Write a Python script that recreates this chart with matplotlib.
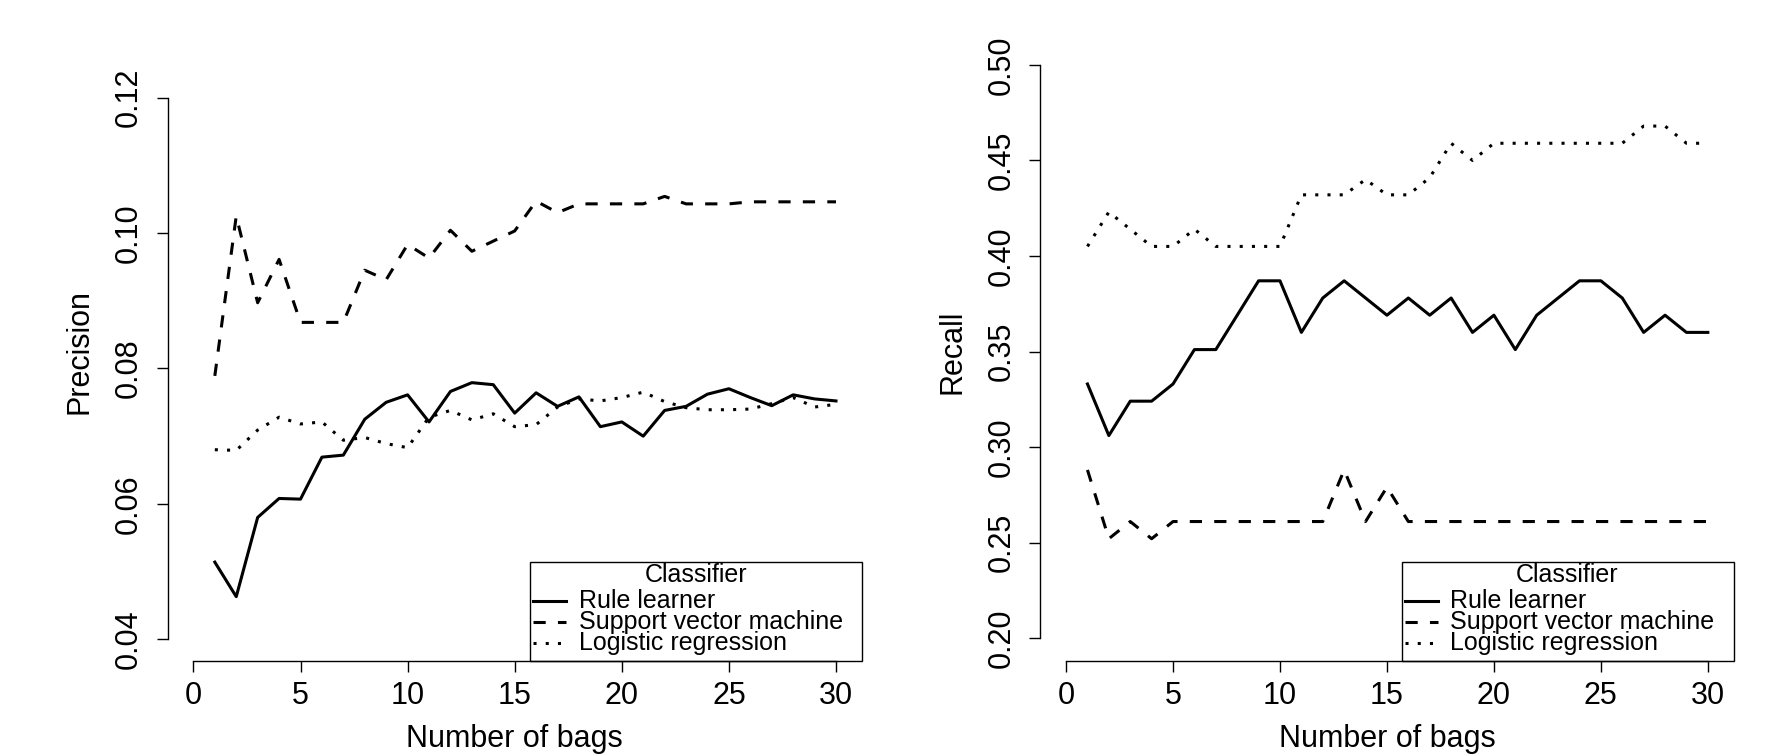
import matplotlib

matplotlib.use("Agg")
import matplotlib.pyplot as plt
from matplotlib.lines import Line2D
from matplotlib.patches import Rectangle

W, H = 1784, 754

# number of bags on the x axis
bags = list(range(1, 31))

# precision per classifier
prec_rule = [0.0514, 0.0463, 0.0580, 0.0608, 0.0607, 0.0669, 0.0672, 0.0725, 0.0750, 0.0761,
             0.0721, 0.0766, 0.0779, 0.0776, 0.0734, 0.0764, 0.0744, 0.0758, 0.0714, 0.0721,
             0.0700, 0.0738, 0.0744, 0.0762, 0.0770, 0.0757, 0.0745, 0.0761, 0.0755, 0.0752]
prec_svm = [0.0789, 0.1025, 0.0897, 0.0961, 0.0868, 0.0868, 0.0868, 0.0945, 0.0931, 0.0983,
            0.0963, 0.1004, 0.0973, 0.0988, 0.1003, 0.1047, 0.1030, 0.1043, 0.1043, 0.1043,
            0.1043, 0.1054, 0.1043, 0.1043, 0.1043, 0.1046, 0.1046, 0.1046, 0.1046, 0.1046]
prec_logit = [0.0680, 0.0679, 0.0709, 0.0728, 0.0718, 0.0721, 0.0694, 0.0698, 0.0689, 0.0683,
              0.0728, 0.0738, 0.0724, 0.0733, 0.0714, 0.0717, 0.0743, 0.0755, 0.0752, 0.0757,
              0.0765, 0.0751, 0.0742, 0.0739, 0.0739, 0.0740, 0.0748, 0.0757, 0.0743, 0.0747]

# recall per classifier
rec_rule = [0.333, 0.306, 0.324, 0.324, 0.333, 0.351, 0.351, 0.369, 0.387, 0.387,
            0.360, 0.378, 0.387, 0.378, 0.369, 0.378, 0.369, 0.378, 0.360, 0.369,
            0.351, 0.369, 0.378, 0.387, 0.387, 0.378, 0.360, 0.369, 0.360, 0.360]
rec_svm = [0.288, 0.252, 0.261, 0.252, 0.261, 0.261, 0.261, 0.261, 0.261, 0.261,
           0.261, 0.261, 0.288, 0.261, 0.279, 0.261, 0.261, 0.261, 0.261, 0.261,
           0.261, 0.261, 0.261, 0.261, 0.261, 0.261, 0.261, 0.261, 0.261, 0.261]
rec_logit = [0.405, 0.423, 0.414, 0.405, 0.405, 0.414, 0.405, 0.405, 0.405, 0.405,
             0.432, 0.432, 0.432, 0.440, 0.432, 0.432, 0.441, 0.459, 0.450, 0.459,
             0.459, 0.459, 0.459, 0.459, 0.459, 0.459, 0.468, 0.468, 0.459, 0.459]

bag_ticks = [0, 5, 10, 15, 20, 25, 30]
prec_ticks = [0.04, 0.06, 0.08, 0.10, 0.12]
rec_ticks = [0.20, 0.25, 0.30, 0.35, 0.40, 0.45, 0.50]
names = ["Rule learner", "Support vector machine", "Logistic regression"]

styles = ["-", (0, (4, 4)), (0, (1, 3))]
LW = 2.2
FS = 22
FS_KEY = 18

plt.rcParams["font.family"] = ["Liberation Sans", "DejaVu Sans"]


def frac(x, y):
    # pixel from the top-left corner -> figure fraction
    return x / W, 1 - y / H


def panel(fig, box, series, ylim, yticks, ylabel):
    x0, y0, x1, y1 = box
    ax = fig.add_axes([x0 / W, 1 - y1 / H, (x1 - x0) / W, (y1 - y0) / H])
    for vals, ls in zip(series, styles):
        ax.plot(bags, vals, color="black", lw=LW, linestyle=ls, dash_capstyle="butt")
    ax.set_xlim(-1.2, 31.2)
    ax.set_ylim(*ylim)
    ax.set_xticks(bag_ticks)
    ax.set_yticks(yticks)
    ax.set_yticklabels([f"{t:.2f}" for t in yticks])
    for s in ("top", "right"):
        ax.spines[s].set_visible(False)
    ax.spines["left"].set_bounds(yticks[0], yticks[-1])
    ax.spines["bottom"].set_bounds(bag_ticks[0], bag_ticks[-1])
    for s in ("left", "bottom"):
        ax.spines[s].set_linewidth(1.0)
    ax.tick_params(direction="out", length=7.9, width=1.0, labelsize=FS)
    ax.tick_params(axis="x", pad=6.5)
    ax.tick_params(axis="y", pad=9)
    plt.setp(ax.get_yticklabels(), rotation=90, va="center")

    # axis titles
    cx = (x0 + x1) / 2
    fig.text(*frac(cx, 747), "Number of bags", ha="center", va="baseline", fontsize=FS)
    fig.text(*frac(x0 - 88, (y0 + y1) / 2), ylabel, rotation=90, ha="center", va="center",
             fontsize=FS)

    # key in the bottom-right corner, drawn like R's legend()
    bx0, by0 = x1 - 332, y1 - 99
    fig.add_artist(Rectangle(frac(bx0, y1), 332 / W, 99 / H, transform=fig.transFigure,
                             fill=False, ec="black", lw=1.0))
    fig.text(*frac(bx0 + 166, by0 + 20), "Classifier", ha="center", va="baseline",
             fontsize=FS_KEY)
    for i, (name, ls) in enumerate(zip(names, styles)):
        base = by0 + 46 + 21 * i
        xa, ya = frac(bx0 + 3, base - 6.8)
        xb, _ = frac(bx0 + 36, base - 6.8)
        fig.add_artist(Line2D([xa, xb], [ya, ya], transform=fig.transFigure, color="black",
                              lw=LW, linestyle=ls, dash_capstyle="butt"))
        fig.text(*frac(bx0 + 49, base), name, ha="left", va="baseline", fontsize=FS_KEY)
    return ax


fig = plt.figure(figsize=(W / 100, H / 100), dpi=100)
panel(fig, (167.7, 42, 861.7, 661), [prec_rule, prec_svm, prec_logit],
      (0.0368, 0.1282), prec_ticks, "Precision")
panel(fig, (1040.4, 42, 1733.5, 661), [rec_rule, rec_svm, rec_logit],
      (0.188, 0.512), rec_ticks, "Recall")
fig.savefig("out.png", dpi=100)
